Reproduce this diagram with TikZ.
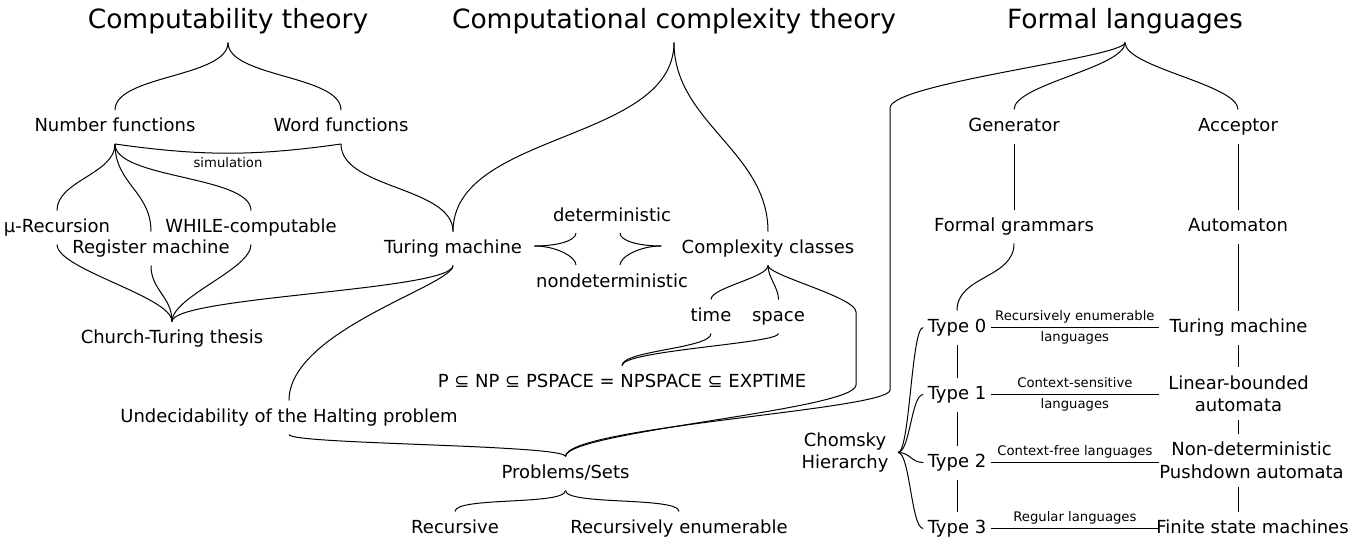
\documentclass[tikz,border=0pt]{standalone}
\usepackage{fontspec}
\setmainfont{DejaVu Sans}
\tikzset{
  every node/.style={inner xsep=4pt, inner ysep=8pt},
  title/.style={font=\fontsize{26.5}{32}\selectfont, text height=19.5pt, text depth=6pt},
  term/.style={font=\fontsize{18}{22.5}\selectfont, text height=13pt, text depth=4pt},
  terms/.style={font=\fontsize{18}{22.5}\selectfont, align=center},
  note/.style={font=\fontsize{13.2}{16}\selectfont, text height=10pt, text depth=3.5pt, inner sep=3.5pt},
  vbrace/.style 2 args={to path={.. controls +(0,-#1) and +(0,#2) .. (\tikztotarget) \tikztonodes}},
  hbrace/.style={to path={.. controls +(#1,0) and +(-#1,0) .. (\tikztotarget) \tikztonodes}}
}
\begin{document}
\begin{tikzpicture}[x=1pt, y=1pt, line width=1pt]
	\useasboundingbox (0,0) rectangle (1368,-539);
	% Headings
	\node[title] (ct) at (228,-21.25) {Computability theory};
	\node[title] (cc) at (674,-21.25) {Computational complexity theory};
	\node[title] (fl) at (1125,-21.25) {Formal languages};
	% Computability theory
	\node[term] (nf) at (115,-127) {Number functions};
	\node[term] (wf) at (341,-127) {Word functions};
	\node[term] (mu) at (57,-227.5) {µ-Recursion};
	\node[term] (wc) at (251,-227.5) {WHILE-computable};
	\node[term] (rm) at (151,-248.5) {Register machine};
	\node[term] (ctt) at (172,-338.5) {Church-Turing thesis};
	\node[term] (uh) at (289,-417.5) {Undecidability of the Halting problem};
	% Computational complexity theory
	\node[term] (tml) at (453,-248.5) {Turing machine};
	\node[term] (det) at (612,-216.5) {deterministic};
	\node[term] (ndet) at (612,-282.5) {nondeterministic};
	\node[term] (ccl) at (768,-248.5) {Complexity classes};
	\node[term] (time) at (711,-316.5) {time};
	\node[term] (space) at (778.5,-316.5) {space};
	\node[term] (pnp) at (622,-382.5) {P ⊆ NP ⊆ PSPACE = NPSPACE ⊆ EXPTIME};
	\node[term] (ps) at (565.5,-473.5) {Problems/Sets};
	\node[term] (rec) at (455,-528.5) {Recursive};
	\node[term] (renum) at (679,-528.5) {Recursively enumerable};
	% Formal languages
	\node[term] (gen) at (1014,-126.5) {Generator};
	\node[term] (acc) at (1238,-126.5) {Acceptor};
	\node[term] (fg) at (1014,-226.5) {Formal grammars};
	\node[term] (aut) at (1238,-226.5) {Automaton};
	\node[terms, anchor=north, inner xsep=9pt] (ch) at (845,-424) {Chomsky\\Hierarchy};
	\node[term] (t0) at (957,-327.5) {Type 0};
	\node[term] (t1) at (957,-394.5) {Type 1};
	\node[term] (t2) at (957,-462.5) {Type 2};
	\node[term] (t3) at (957,-528.5) {Type 3};
	\node[term] (tmr) at (1238.5,-327.5) {Turing machine};
	\node[terms, anchor=north] (lba) at (1238.5,-367) {Linear-bounded\\automata};
	\node[terms, anchor=north] (npda) at (1251.5,-433.5) {Non-deterministic\\Pushdown automata};
	\node[term] (fsm) at (1252.5,-528.5) {Finite state machines};
	% Bend points
	\coordinate (tmdtop) at (576,-233);
	\coordinate (tmdbot) at (576,-265);
	\coordinate (ccdtop) at (620,-233);
	\coordinate (ccdbot) at (620,-265);
	\coordinate (ccbend) at (856,-312);
	\coordinate (ccdown) at (856,-385);
	\coordinate (flbend) at (890,-108);
	\coordinate (fldown) at (890,-390);
	\coordinate (langend) at (1159,0);
	% Computability theory braces
	\draw (ct.south) to[vbrace={35}{35}] (nf.north);
	\draw (ct.south) to[vbrace={35}{35}] (wf.north);
	\draw (nf.south) to[vbrace={30}{30}] (mu.north);
	\draw (nf.south) to[vbrace={40}{40}] (rm.north);
	\draw (nf.south) to[vbrace={35}{35}] (wc.north);
	\draw (nf.south) to[bend right=8] node[note, below] {simulation} (wf.south);
	\draw (wf.south) to[vbrace={45}{45}] (tml.north);
	\draw (mu.south) to[vbrace={25}{25}] (ctt.north);
	\draw (rm.south) to[vbrace={25}{25}] (ctt.north);
	\draw (wc.south) to[vbrace={25}{25}] (ctt.north);
	\draw (tml.south) to[vbrace={25}{25}] (ctt.north);
	\draw (tml.south) to[vbrace={20}{70}] (uh.north);
	\draw (uh.south) to[vbrace={10}{12}] (ps.north);
	% Computational complexity theory braces
	\draw (cc.south) to[vbrace={100}{100}] (tml.north);
	\draw (cc.south) to[vbrace={80}{80}] (ccl.north);
	\draw ([xshift=8pt,yshift=2.5pt]tml.east) .. controls +(22,0) and +(0,-8) .. (tmdtop);
	\draw ([xshift=8pt,yshift=2.5pt]tml.east) .. controls +(22,0) and +(0,8) .. (tmdbot);
	\draw ([xshift=-16pt,yshift=2.5pt]ccl.west) .. controls +(-22,0) and +(0,-8) .. (ccdtop);
	\draw ([xshift=-16pt,yshift=2.5pt]ccl.west) .. controls +(-22,0) and +(0,8) .. (ccdbot);
	\draw (ccl.south) to[vbrace={12}{12}] (time.north);
	\draw (ccl.south) to[vbrace={12}{12}] (space.north);
	\draw (ccl.south) to[vbrace={10}{15}] (ccbend) -- (ccdown) to[vbrace={25}{25}] (ps.north);
	\draw (time.south) to[vbrace={15}{15}] (pnp.north);
	\draw (space.south) to[vbrace={10}{15}] (pnp.north);
	\draw (ps.south) to[vbrace={15}{15}] (rec.north);
	\draw (ps.south) to[vbrace={15}{15}] (renum.north);
	% Formal languages braces
	\draw (fl.south) to[vbrace={15}{25}] (flbend) -- (fldown) to[vbrace={20}{30}] (ps.north);
	\draw (fl.south) to[vbrace={25}{25}] (gen.north);
	\draw (fl.south) to[vbrace={25}{25}] (acc.north);
	\draw (gen.south) -- (fg.north);
	\draw (acc.south) -- (aut.north);
	\draw (fg.south) to[vbrace={35}{35}] (t0.north);
	\foreach \a/\b in {t0/t1,t1/t2,t2/t3}
		\draw (\a.south) -- (\b.north);
	\foreach \t in {t0,t1,t2,t3}
		\draw (ch.east) to[hbrace=12] (\t.west);
	% Languages between grammars and automata
	\draw (t0.east) -- (t0.east -| langend) node[note, midway, above] {Recursively enumerable} node[note, midway, below] {languages};
	\draw (t1.east) -- (t1.east -| langend) node[note, midway, above] {Context-sensitive} node[note, midway, below] {languages};
	\draw (t2.east) -- (t2.east -| langend) node[note, midway, above] {Context-free languages};
	\draw (t3.east) -- (t3.east -| langend) node[note, midway, above] {Regular languages};
	% Automata column
	\draw (aut.south) -- (aut.south |- tmr.north);
	\draw (aut.south |- tmr.south) -- (aut.south |- lba.north);
	\draw (aut.south |- lba.south) -- (aut.south |- npda.north);
	\draw (aut.south |- npda.south) -- (aut.south |- fsm.north);
\end{tikzpicture}
\end{document}
